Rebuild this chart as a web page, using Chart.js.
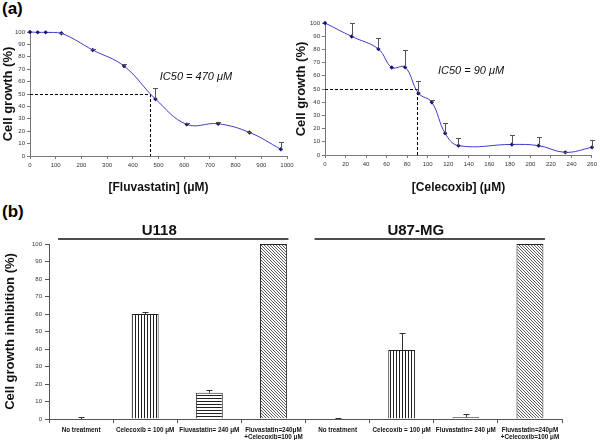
<!DOCTYPE html>
<html>
<head>
<meta charset="utf-8">
<script src="https://cdn.jsdelivr.net/npm/chart.js@4/dist/chart.umd.min.js"></script>
<style>
body { margin: 0; background: #fff; width: 600px; height: 440px; position: relative; overflow: hidden; font-family: "Liberation Sans", Arial, sans-serif; }
canvas { position: absolute; }
.panel { position: absolute; font-weight: bold; font-size: 17px; color: #000; }
</style>
</head>
<body>
<div class="panel" style="left:2px;top:-1px">(a)</div>
<div class="panel" style="left:2px;top:202px">(b)</div>
<canvas id="fluva" width="300" height="200" style="left:0;top:0"></canvas>
<canvas id="celeco" width="308" height="200" style="left:292px;top:0"></canvas>
<canvas id="combo" width="600" height="240" style="left:0;top:200px"></canvas>
<script>
// dose-response, panel (a)
var fluvaDose = [0, 30, 61, 122, 244, 366, 488, 610, 732, 854, 976];
var fluvaGrowth = [100, 99.7, 99.7, 99, 85.5, 72.5, 46, 25.5, 26, 19, 5.5];
var fluvaErr = [0, 0, 0, 0.5, 1, 1.5, 9, 1, 1.5, 0.5, 5.5];

var celecoDose = [0, 26, 52, 65, 78, 91, 104, 117, 130, 182, 208, 234, 260];
var celecoGrowth = [100, 89.8, 80.3, 66.3, 66.5, 46.8, 40, 16.5, 7.1, 8, 7.1, 2, 5.8];
var celecoErr = [0, 10, 8.3, 0, 13, 9.2, 1.8, 7.5, 5.6, 7, 6.3, 0.5, 5.6];

var ic50Fluva = 465;
var ic50Celeco = 90;

// inhibition, panel (b)
var cellLines = ['U118', 'U87-MG'];
var treatments = [
    'No treatment', 'Celecoxib = 100 μM', 'Fluvastatin= 240 μM', ['Fluvastatin=240μM', '+Celecoxib=100 μM'],
    'No treatment', 'Celecoxib = 100 μM', 'Fluvastatin= 240 μM', ['Fluvastatin=240μM', '+Celecoxib=100 μM']
];
var inhibition = [0, 60, 15, 100, 0, 39.5, 1, 100];
var inhibitionErr = [1, 1.2, 1.7, 0, 0.5, 9.5, 1.7, 0];

Chart.defaults.font.family = '"Liberation Sans", Arial, sans-serif';
Chart.defaults.color = '#333';

var lineBlue = '#3d3dc8';
var markerNavy = '#141478';

var errorBars = {
    id: 'errorBars',
    afterDatasetsDraw: function (chart, args, opts) {
        var meta = chart.getDatasetMeta(0);
        var ctx = chart.ctx, y = chart.scales.y;
        var data = chart.data.datasets[0].data;
        ctx.save();
        ctx.strokeStyle = opts.color;
        ctx.lineWidth = 1;
        meta.data.forEach(function (el, i) {
            var e = opts.errors[i];
            if (!e) return;
            var v = data[i];
            if (typeof v === 'object') v = v.y;
            var top = Math.round(y.getPixelForValue(v + e)) + 0.5;
            var x = Math.round(el.x) + 0.5;
            ctx.beginPath();
            ctx.moveTo(x, el.y);
            ctx.lineTo(x, top);
            ctx.moveTo(x - opts.cap, top);
            ctx.lineTo(x + opts.cap, top);
            ctx.stroke();
        });
        ctx.restore();
    }
};

var ic50Marker = {
    id: 'ic50Marker',
    beforeDatasetsDraw: function (chart, args, opts) {
        var x = chart.scales.x, y = chart.scales.y, ctx = chart.ctx;
        var px = Math.round(x.getPixelForValue(opts.dose)) + 0.5;
        var py = Math.round(y.getPixelForValue(50)) + 0.5;
        ctx.save();
        ctx.setLineDash([3, 2]);
        ctx.strokeStyle = '#000';
        ctx.lineWidth = 1;
        ctx.beginPath();
        ctx.moveTo(x.left, py);
        ctx.lineTo(px, py);
        ctx.lineTo(px, y.bottom);
        ctx.stroke();
        ctx.setLineDash([]);
        ctx.fillStyle = '#111';
        ctx.font = 'italic 11px "Liberation Sans", Arial, sans-serif';
        ctx.textBaseline = 'middle';
        ctx.fillText(opts.label, x.getPixelForValue(opts.labelAt[0]), y.getPixelForValue(opts.labelAt[1]));
        ctx.restore();
    }
};

var groupHeaders = {
    id: 'groupHeaders',
    afterDraw: function (chart, args, opts) {
        var x = chart.scales.x, ctx = chart.ctx, top = chart.chartArea.top;
        ctx.save();
        opts.names.forEach(function (name, g) {
            var a = x.getPixelForValue(g * 4), b = x.getPixelForValue(g * 4 + 3);
            ctx.fillStyle = '#4d4d4d';
            ctx.fillRect(a - 23, top - 6, b - a + 38, 2);
            ctx.fillStyle = '#111';
            ctx.font = 'bold 15px "Liberation Sans", Arial, sans-serif';
            ctx.textAlign = 'center';
            ctx.textBaseline = 'alphabetic';
            ctx.fillText(name, (a + b) / 2 - 18, top - 9);
        });
        ctx.restore();
    }
};

function makePattern(kind) {
    var c = document.createElement('canvas');
    c.width = 3; c.height = 3;
    var g = c.getContext('2d');
    g.fillStyle = '#fff';
    g.fillRect(0, 0, 3, 3);
    g.fillStyle = kind === 'diagonal' ? '#5a5a5a' : '#222';
    if (kind === 'vertical') g.fillRect(0, 0, 1, 3);
    if (kind === 'horizontal') g.fillRect(0, 0, 3, 1);
    if (kind === 'diagonal') { g.fillRect(0, 0, 1, 1); g.fillRect(1, 1, 1, 1); g.fillRect(2, 2, 1, 1); }
    return g.createPattern(c, 'repeat');
}

function doseChart(id, doses, growth, errs, opts) {
    return new Chart(document.getElementById(id), {
        type: 'line',
        data: {
            datasets: [{
                data: doses.map(function (d, i) { return { x: d, y: growth[i] }; }),
                borderColor: lineBlue,
                borderWidth: 1,
                tension: 0.4,
                clip: 4,
                pointStyle: 'rectRot',
                pointRadius: 2.2,
                pointBackgroundColor: markerNavy,
                pointBorderColor: markerNavy,
                pointBorderWidth: 0
            }]
        },
        options: {
            responsive: false,
            animation: false,
            layout: { padding: opts.padding },
            plugins: {
                legend: { display: false },
                tooltip: { enabled: false },
                errorBars: { errors: errs, color: '#555', cap: 2.5 },
                ic50Marker: { dose: opts.ic50, label: opts.ic50Label, labelAt: opts.labelAt }
            },
            scales: {
                x: {
                    type: 'linear', min: 0, max: opts.xMax,
                    ticks: { stepSize: opts.xStep, font: { size: 6 }, padding: 3, color: '#333', format: { useGrouping: false } },
                    grid: { drawOnChartArea: false, tickLength: 3, color: '#777' },
                    border: { color: '#777' },
                    title: { display: true, text: opts.xTitle, color: '#111', font: { size: 12, weight: 'bold' }, padding: { top: 0, bottom: 5 } },
                    afterFit: function (s) { s.height = opts.xHeight; }
                },
                y: {
                    min: 0, max: 100,
                    ticks: { stepSize: 10, font: { size: 6 }, padding: 2, color: '#333' },
                    grid: { drawOnChartArea: false, tickLength: 3, color: '#777' },
                    border: { color: '#777' },
                    title: { display: true, text: 'Cell growth (%)', color: '#111', font: { size: 13, weight: 'bold' }, padding: { top: opts.titlePad, bottom: 0 } },
                    afterFit: function (s) { s.width = opts.yWidth; }
                }
            }
        },
        plugins: [ic50Marker, errorBars]
    });
}

doseChart('fluva', fluvaDose, fluvaGrowth, fluvaErr, {
    padding: { left: 0, right: 13, top: 32, bottom: 0 },
    xMax: 1000, xStep: 100, xTitle: '[Fluvastatin] (μM)',
    xHeight: 44, yWidth: 30, titlePad: 1,
    ic50: ic50Fluva, ic50Label: 'IC50 = 470 μM', labelAt: [505, 63.5]
});

doseChart('celeco', celecoDose, celecoGrowth, celecoErr, {
    padding: { left: 0, right: 7, top: 23, bottom: 0 },
    xMax: 260, xStep: 20, xTitle: '[Celecoxib] (μM)',
    xHeight: 45, yWidth: 33, titlePad: 2,
    ic50: ic50Celeco, ic50Label: 'IC50 = 90 μM', labelAt: [110, 63.5]
});

var fills = ['#fff', makePattern('vertical'), makePattern('horizontal'), makePattern('diagonal')];

new Chart(document.getElementById('combo'), {
    type: 'bar',
    data: {
        labels: treatments,
        datasets: [{
            data: inhibition,
            backgroundColor: treatments.map(function (t, i) { return fills[i % 4]; }),
            borderColor: '#222',
            borderWidth: 1,
            barPercentage: 0.42,
            categoryPercentage: 1
        }]
    },
    options: {
        responsive: false,
        animation: false,
        layout: { padding: { left: 0, right: 38, top: 44, bottom: 0 } },
        plugins: {
            legend: { display: false },
            tooltip: { enabled: false },
            errorBars: { errors: inhibitionErr, color: '#333', cap: 3 },
            groupHeaders: { names: cellLines }
        },
        scales: {
            x: {
                ticks: { font: { size: 6.3, weight: 'bold' }, color: '#111', maxRotation: 0, autoSkip: false, padding: 3 },
                grid: { drawOnChartArea: false, tickLength: 4, color: '#555', offset: true },
                border: { color: '#555' },
                afterFit: function (s) { s.height = 21; }
            },
            y: {
                min: 0, max: 100,
                ticks: { stepSize: 10, font: { size: 6 }, padding: 3, color: '#333' },
                grid: { drawOnChartArea: false, tickLength: 4, color: '#555' },
                border: { color: '#555' },
                title: { display: true, text: 'Cell growth inhibition (%)', color: '#111', font: { size: 13, weight: 'bold' }, padding: { top: 3, bottom: 0 } },
                afterFit: function (s) { s.width = 49; }
            }
        }
    },
    plugins: [errorBars, groupHeaders]
});
</script>
</body>
</html>
